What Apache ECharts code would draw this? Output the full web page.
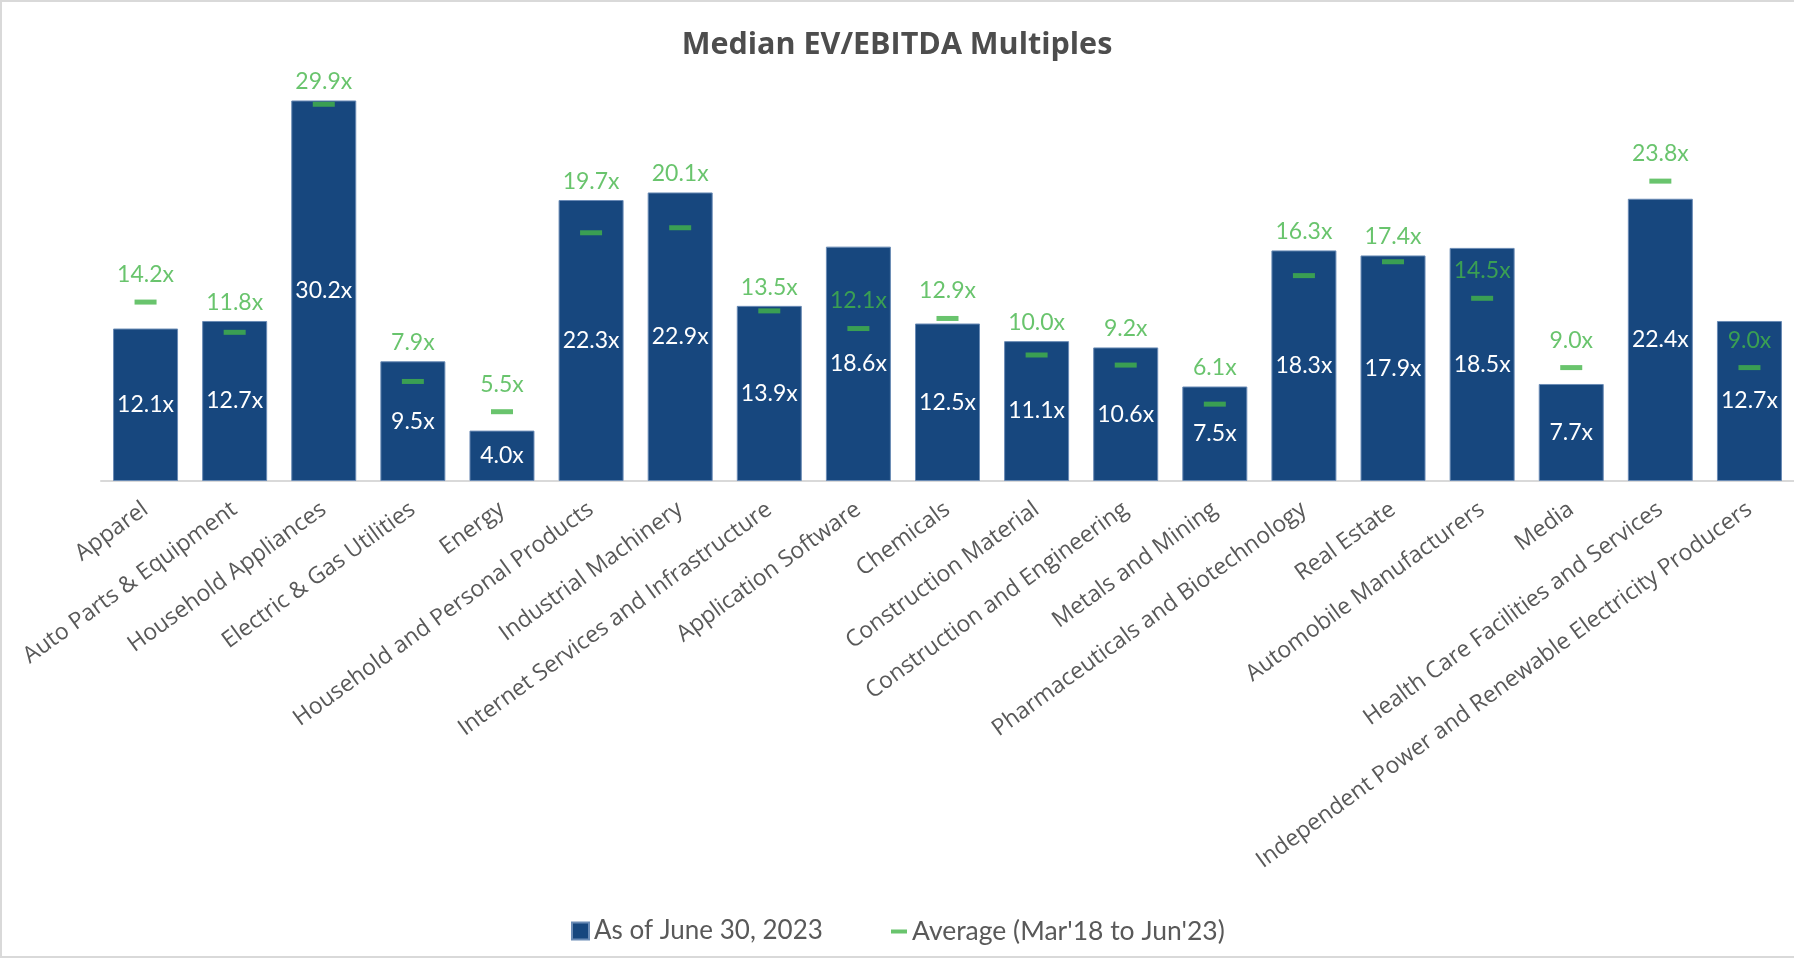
<!DOCTYPE html>
<html>
<head>
<meta charset="utf-8">
<script src="https://cdn.jsdelivr.net/npm/echarts@6/dist/echarts.min.js"></script>
<style>
  html, body { margin: 0; padding: 0; background: #ffffff; overflow: hidden; }
  #frame { position: absolute; left: 0; top: 0; width: 1800px; height: 958px; box-sizing: border-box; border: 2px solid #d9d9d9; }
  #chart { position: absolute; left: 0; top: 0; width: 1794px; height: 958px; }
</style>
</head>
<body>
<div id="frame"></div>
<div id="chart"></div>
<script>
const categories = [
  "Apparel",
  "Auto Parts & Equipment",
  "Household Appliances",
  "Electric & Gas Utilities",
  "Energy",
  "Household and Personal Products",
  "Industrial Machinery",
  "Internet Services and Infrastructure",
  "Application Software",
  "Chemicals",
  "Construction Material",
  "Construction and Engineering",
  "Metals and Mining",
  "Pharmaceuticals and Biotechnology",
  "Real Estate",
  "Automobile Manufacturers",
  "Media",
  "Health Care Facilities and Services",
  "Independent Power and Renewable Electricity Producers"
];
const currentValues = [12.1, 12.7, 30.2, 9.5, 4.0, 22.3, 22.9, 13.9, 18.6, 12.5, 11.1, 10.6, 7.5, 18.3, 17.9, 18.5, 7.7, 22.4, 12.7];
const averageValues = [14.2, 11.8, 29.9, 7.9, 5.5, 19.7, 20.1, 13.5, 12.1, 12.9, 10.0, 9.2, 6.1, 16.3, 17.4, 14.5, 9.0, 23.8, 9.0];
const seriesNames = ["As of June 30, 2023", "Average (Mar'18 to Jun'23)"];

const BLUE = '#17477e';
const GREEN = '#44b549';
const GREY = '#595959';
const FONT = 'Lato, "Noto Sans", sans-serif';

// Average labels: sit above the bar when the bar is only slightly higher, otherwise above the dash
const labelData = averageValues.map((a, i) => {
  const b = currentValues[i];
  const aboveBar = (b > a) && (b - a) < 3;
  return {
    value: aboveBar ? b : a,
    avg: a,
    label: { distance: aboveBar ? 7 : 16 }
  };
});

const chart = echarts.init(document.getElementById('chart'), null, { renderer: 'canvas' });
chart.setOption({
  backgroundColor: 'transparent',
  animation: false,
  title: {
    text: 'Median EV/EBITDA Multiples',
    left: 'center',
    top: 25,
    textStyle: { fontFamily: '"Open Sans", sans-serif', fontSize: 30.5, fontWeight: 'bold', color: '#4d4d4d' }
  },
  legend: [
    {
      data: [seriesNames[0]],
      left: 566, top: 913,
      icon: 'rect', itemWidth: 17, itemHeight: 17,
      textStyle: { fontFamily: FONT, fontSize: 26, color: GREY }
    },
    {
      data: [seriesNames[1]],
      left: 886, top: 913,
      icon: 'rect', itemWidth: 16, itemHeight: 4,
      textStyle: { fontFamily: FONT, fontSize: 26.5, color: GREY }
    }
  ],
  grid: { left: 101, width: 1695, top: 40, height: 441, containLabel: false },
  xAxis: {
    type: 'category',
    data: categories,
    axisLine: { show: true, lineStyle: { color: '#d9d9d9', width: 2 } },
    axisTick: { show: false },
    axisLabel: {
      interval: 0, rotate: 36, margin: 26,
      fontFamily: '"Open Sans", sans-serif', fontSize: 23, color: GREY
    }
  },
  yAxis: {
    type: 'value', min: 0, max: 35, interval: 5,
    show: false, splitLine: { show: false }
  },
  series: [
    {
      name: seriesNames[0],
      type: 'bar',
      data: currentValues,
      barWidth: 65,
      itemStyle: { color: BLUE, borderColor: '#6a8bb5', borderWidth: 1 },
      label: {
        show: true, position: 'inside',
        fontFamily: FONT, fontSize: 23, color: '#ffffff',
        formatter: p => p.value.toFixed(1) + 'x'
      },
      z: 2
    },
    {
      name: seriesNames[1],
      type: 'scatter',
      data: averageValues,
      symbol: 'rect',
      symbolSize: [22, 5],
      itemStyle: { color: GREEN },
      z: 4
    },
    {
      name: 'avgLabels',
      type: 'scatter',
      data: labelData,
      symbolSize: 0,
      silent: true,
      itemStyle: { color: 'transparent' },
      label: {
        show: true, position: 'top',
        fontFamily: FONT, fontSize: 23, color: GREEN,
        formatter: p => p.data.avg.toFixed(1) + 'x'
      },
      z: 5
    }
  ]
});
</script>
</body>
</html>
